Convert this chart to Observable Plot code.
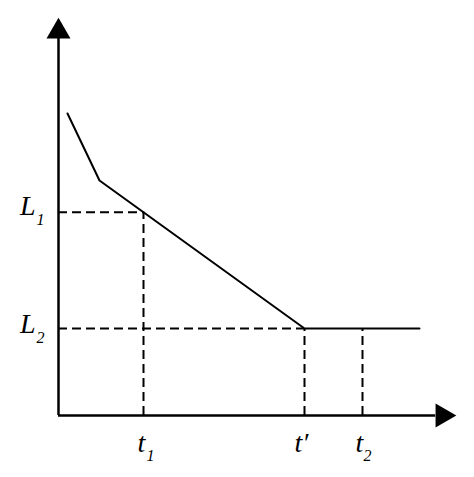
<!DOCTYPE html>
<html>
<head>
<meta charset="utf-8">
<script src="https://cdn.jsdelivr.net/npm/d3@7"></script>
<script src="https://cdn.jsdelivr.net/npm/@observablehq/plot@0.6"></script>
<style>
  html, body { margin: 0; padding: 0; background: #fff; }
</style>
</head>
<body>
<div id="chart"></div>
<script>
// Data (arbitrary units)
const curveT = [0.225, 1.025, 6.15, 9.025];
const curveL = [7.55, 5.875, 2.175, 2.175];
const t1 = 2.125, tPrime = 6.15, t2 = 7.6;
const L1 = 5.08, L2 = 2.175;
const axisEnd = 9.43, arrowPos = 9.6;

const curve = curveT.map((t, i) => ({t, L: curveL[i]}));
const serif = "'Liberation Serif', 'DejaVu Serif', serif";

const mainText = (data, opts) => Plot.text(data, {fontFamily: serif, fontStyle: "italic", fontSize: 28, fill: "black", lineAnchor: "bottom", ...opts});
const subText = (data, opts) => Plot.text(data, {fontFamily: serif, fontStyle: "italic", fontSize: 16, fill: "black", lineAnchor: "bottom", textAnchor: "start", ...opts});

const chart = Plot.plot({
  width: 474,
  height: 477,
  marginLeft: 58,
  marginRight: 16,
  marginTop: 15,
  marginBottom: 62,
  x: {domain: [0, 10], axis: null},
  y: {domain: [0, 10], axis: null},
  marks: [
    // axes
    Plot.ruleX([0], {y1: 0, y2: axisEnd, stroke: "black", strokeWidth: 2.5}),
    Plot.ruleY([0], {x1: 0, x2: axisEnd, stroke: "black", strokeWidth: 2.5}),
    Plot.dot([{x: 0, y: arrowPos}], {x: "x", y: "y", symbol: "triangle", r: 8.9, fill: "black", stroke: null}),
    Plot.dot([{x: arrowPos, y: 0}], {x: "x", y: "y", symbol: "triangle", r: 8.9, fill: "black", stroke: null, rotate: 90}),
    // dashed guides
    Plot.ruleY([L1], {x1: 0, x2: t1, stroke: "black", strokeWidth: 2, strokeDasharray: "9,5"}),
    Plot.ruleY([L2], {x1: 0, x2: tPrime, stroke: "black", strokeWidth: 2, strokeDasharray: "9,5"}),
    Plot.ruleX([t1], {y1: 0, y2: L1, stroke: "black", strokeWidth: 2, strokeDasharray: "9,5"}),
    Plot.ruleX([tPrime], {y1: 0, y2: L2, stroke: "black", strokeWidth: 2, strokeDasharray: "9,5"}),
    Plot.ruleX([t2], {y1: 0, y2: L2, stroke: "black", strokeWidth: 2, strokeDasharray: "9,5"}),
    // curve
    Plot.line(curve, {x: "t", y: "L", stroke: "black", strokeWidth: 2}),
    // labels
    mainText([L1], {x: 0, y: d => d, text: () => "L", textAnchor: "end", dx: -23, dy: 3}),
    subText([L1], {x: 0, y: d => d, text: () => "1", dx: -22, dy: 13}),
    mainText([L2], {x: 0, y: d => d, text: () => "L", textAnchor: "end", dx: -23, dy: 4}),
    subText([L2], {x: 0, y: d => d, text: () => "2", dx: -22, dy: 14}),
    mainText([t1], {x: d => d, y: 0, text: () => "t", textAnchor: "middle", dx: -2, dy: 36}),
    subText([t1], {x: d => d, y: 0, text: () => "1", dx: 3, dy: 45}),
    mainText([tPrime], {x: d => d, y: 0, text: () => "t\u2032", textAnchor: "middle", dx: -3, dy: 36}),
    mainText([t2], {x: d => d, y: 0, text: () => "t", textAnchor: "middle", dx: -3, dy: 36}),
    subText([t2], {x: d => d, y: 0, text: () => "2", dx: 1, dy: 45})
  ]
});
document.getElementById("chart").appendChild(chart);
</script>
</body>
</html>
